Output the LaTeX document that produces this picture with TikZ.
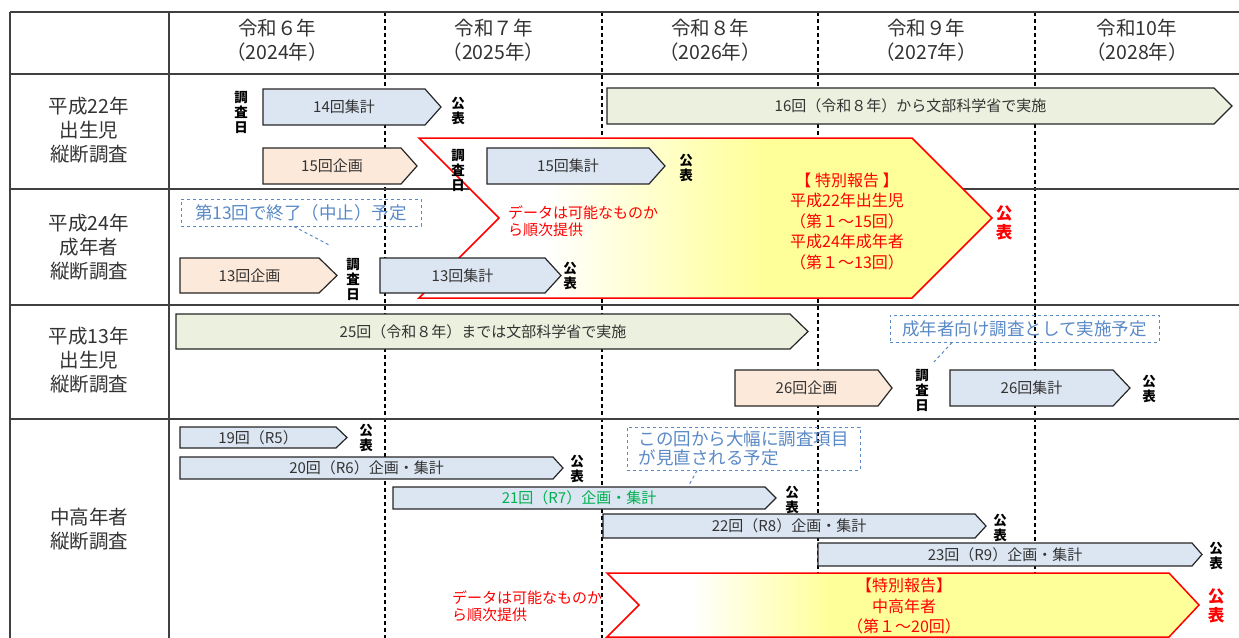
\documentclass[tikz,border=0pt]{standalone}
\usepackage{fontspec}
\setmainfont{Noto Sans CJK JP}
\definecolor{bxblue}{HTML}{DCE6F2}
\definecolor{bxpeach}{HTML}{FDE9D9}
\definecolor{bxgreen}{HTML}{EBF1DE}
\definecolor{bxline}{HTML}{262626}
\definecolor{note}{HTML}{5A8AC6}
\definecolor{spy}{HTML}{FFFF99}
\definecolor{grn}{HTML}{00B050}
\definecolor{txt}{HTML}{333333}
\definecolor{gridc}{HTML}{404040}
\pgfdeclarehorizontalshading{spA}{100bp}{color(0bp)=(white); color(36bp)=(white); color(55bp)=(spy); color(100bp)=(spy)}
\pgfdeclarehorizontalshading{spB}{100bp}{color(0bp)=(white); color(32bp)=(white); color(44bp)=(spy); color(100bp)=(spy)}
\newcommand\fz[2]{\fontsize{#1}{#2}\selectfont}
\newcommand\abox[9]{%
  \draw[bx, fill=#7] (#2,#4) -- (#3-#6,#4) -- (#3,#4/2+#5/2) -- (#3-#6,#5) -- (#2,#5) -- cycle;
  \node[bxt,#9] (#1) at (#2/2+#3/2-#6/2, #4/2+#5/2) {#8};}
\tikzset{
  hdr/.style={font=\fz{19.5}{24.5}, align=center, text=txt, inner sep=0},
  rowlab/.style={font=\fz{19.5}{24}, align=center, text=txt, inner sep=0},
  bx/.style={draw=bxline, line width=1.2pt},
  bxt/.style={font=\fz{15}{17}, text=txt, inner sep=0},
  vlab/.style={font=\fz{13.5}{15}\bfseries, align=center, text=black, inner sep=0},
  notebox/.style={draw=note, dashed, line width=1pt, inner sep=0, font=\fz{17.5}{19.5}, text=note},
  noteline/.style={draw=note, dashed, line width=1pt},
  redt/.style={font=\fz{15}{17}, text=red, align=left, inner sep=0},
  spt/.style={font=\fz{16}{20.5}, text=red, align=center, inner sep=0},
  redpub/.style={font=\fz{16.5}{18.5}\bfseries, text=red, align=center, inner sep=0},
  gridv/.style={dash pattern=on 4pt off 3pt, line width=1.1pt, black},
  gridh/.style={line width=1.5pt, gridc},
  chev/.style={draw=red, line width=1.5pt}
}
\begin{document}
\begin{tikzpicture}[x=1pt, y=-1pt]
\useasboundingbox (0,0) rectangle (1239,637);
\clip (0,0) rectangle (1239,637);
\fill[white] (0,0) rectangle (1239,637);
% grid
\foreach \gx in {385,602,818,1035} \draw[gridv] (\gx,12) -- (\gx,640);
\foreach \gy in {12,74,189,305,419} \draw[gridh] (10,\gy) -- (1239,\gy);
\draw[gridh] (10,12) -- (10,640);
\draw[gridh] (169,12) -- (169,640);
% header
\node[hdr] (h6) at (277,40) {令和６年\\（2024年）};
\node[hdr] (h7) at (493.5,40) {令和７年\\（2025年）};
\node[hdr] (h8) at (710,40) {令和８年\\（2026年）};
\node[hdr] (h9) at (926,40) {令和９年\\（2027年）};
\node[hdr] (h10) at (1137,40) {令和10年\\（2028年）};
% row labels
\node[rowlab] (l1) at (89,130) {平成22年\\出生児\\縦断調査};
\node[rowlab] (l2) at (89,247) {平成24年\\成年者\\縦断調査};
\node[rowlab] (l3) at (89,360) {平成13年\\出生児\\縦断調査};
\node[rowlab] (l4) at (89,529) {中高年者\\縦断調査};
% special report 1
\shadedraw[chev, shading=spA] (419,138) -- (912,138) -- (992,218) -- (912,298) -- (419,298) -- (499,218) -- cycle;
\node[spt] (sp1) at (847,221) {【 特別報告 】\\平成22年出生児\\（第１～15回）\\平成24年成年者\\（第１～13回）};
\node[redpub] (rp1) at (1004,223) {公\\表};
\node[redt, anchor=west] (n1) at (508,221) {データは可能なものか\\ら順次提供};
% row 1
\node[vlab] (d14) at (241,112) {調\\査\\日};
\abox{b14}{263}{441}{89}{125}{16}{bxblue}{14回集計}{}
\node[vlab] (p14) at (458,111) {公\\表};
\abox{b16}{607}{1232}{88}{124}{18}{bxgreen}{16回（令和８年）から文部科学省で実施}{}
\abox{k15}{263}{417}{148}{184}{16}{bxpeach}{15回企画}{}
\node[vlab] (d15) at (458,170) {調\\査\\日};
\abox{b15}{487}{665}{148}{184}{16}{bxblue}{15回集計}{}
\node[vlab] (p15) at (686,168) {公\\表};
% row 2
\node[notebox, minimum width=240pt, minimum height=27pt] (nt1) at (301,212.5) {第13回で終了（中止）予定};
\coordinate (c1) at (331,246);
\draw[noteline] ([xshift=-7pt]nt1.south) -- (c1);
\abox{k13}{180}{337}{258}{293}{18}{bxpeach}{13回企画}{}
\node[vlab] (d13) at (353,279) {調\\査\\日};
\abox{b13}{380}{561}{258}{293}{16}{bxblue}{13回集計}{}
\node[vlab] (p13) at (570,276) {公\\表};
% row 3
\abox{b25}{176}{808}{314}{349}{18}{bxgreen}{25回（令和８年）までは文部科学省で実施}{}
\node[notebox, minimum width=269pt, minimum height=27pt] (nt2) at (1024.5,328.5) {成年者向け調査として実施予定};
\coordinate (c2) at (934,362);
\draw[noteline] ([xshift=-72.5pt]nt2.south) -- (c2);
\abox{k26}{735}{892}{370}{406}{14}{bxpeach}{26回企画}{}
\node[vlab] (d26) at (922,390) {調\\査\\日};
\abox{b26}{950}{1130}{370}{406}{17}{bxblue}{26回集計}{}
\node[vlab] (p26) at (1149,389) {公\\表};
% row 4
\abox{r19}{180}{347}{427}{448}{11}{bxblue}{19回（R5）}{}
\node[vlab] (q19) at (366,438) {公\\表};
\abox{r20}{180}{563}{457}{479}{10}{bxblue}{20回（R6）企画・集計}{}
\node[vlab] (q20) at (577,469) {公\\表};
\abox{r21}{393}{776}{487}{509}{11}{bxblue}{21回（R7）企画・集計}{text=grn}
\node[vlab] (q21) at (792,500) {公\\表};
\abox{r22}{603}{986}{514}{538}{11}{bxblue}{22回（R8）企画・集計}{}
\node[vlab] (q22) at (1000,528) {公\\表};
\abox{r23}{818}{1202}{543}{566}{10}{bxblue}{23回（R9）企画・集計}{}
\node[vlab] (q23) at (1216,556) {公\\表};
\node[notebox, minimum width=233pt, minimum height=43pt, align=left] (nt3) at (743.5,448.5) {この回から大幅に調査項目\\が見直される予定};
\coordinate (c3) at (689,485);
\draw[noteline] ([xshift=-46.5pt]nt3.south) -- (c3);
% special report 2
\shadedraw[chev, shading=spB] (607,573) -- (1169,573) -- (1199,605) -- (1169,637) -- (607,637) -- (639,605) -- cycle;
\node[spt] (sp2) at (904,606) {【特別報告】\\中高年者\\（第１～20回）};
\node[redpub] (rp2) at (1216,606) {公\\表};
\node[redt, anchor=west] (n2) at (452,606) {データは可能なものか\\ら順次提供};
\end{tikzpicture}
\end{document}
